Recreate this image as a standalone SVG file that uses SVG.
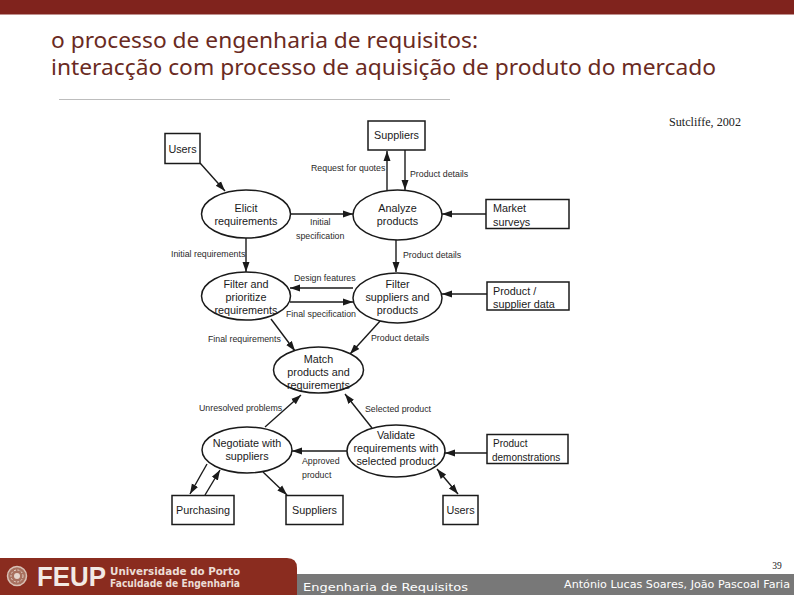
<svg xmlns="http://www.w3.org/2000/svg" width="794" height="595" viewBox="0 0 794 595">
<style>
.n{fill:#fff;stroke:#1a1a1a;stroke-width:1.5}
.c{fill:none;stroke:#1a1a1a;stroke-width:1.4;marker-end:url(#a)}
.t{font-family:"Liberation Sans",Arial,sans-serif;font-size:10.8px;fill:#1a1a1a;text-anchor:middle}
.l{font-family:"Liberation Sans",Arial,sans-serif;font-size:8.8px;fill:#2a2a2a}
.h{font-family:"Noto Sans",sans-serif;font-size:21.500px;fill:#6a2a22}
.f{font-family:"DejaVu Sans",sans-serif}
</style>
<defs>
<marker id="a" markerUnits="userSpaceOnUse" markerWidth="11" markerHeight="9" refX="10" refY="4" orient="auto"><path d="M0 0.500L10 4L0 7.500z" fill="#1a1a1a"/></marker>
<marker id="b" markerUnits="userSpaceOnUse" markerWidth="11" markerHeight="9" refX="0" refY="4" orient="auto"><path d="M10 0.500L0 4L10 7.500z" fill="#1a1a1a"/></marker>
</defs>
<rect width="794" height="595" fill="#fff"/>
<rect id="top-band" width="794" height="14.500" fill="#80231d"/>
<text class="h" x="51" y="48" textLength="427" lengthAdjust="spacingAndGlyphs">o processo de engenharia de requisitos:</text>
<text class="h" x="51" y="75" textLength="665" lengthAdjust="spacingAndGlyphs">interacção com processo de aquisição de produto do mercado</text>
<rect x="59" y="99" width="391" height="1" fill="#bdbdbd"/>
<text x="705" y="126" font-family="Liberation Serif,serif" font-size="11.500" fill="#222" text-anchor="middle" textLength="72" lengthAdjust="spacingAndGlyphs">Sutcliffe, 2002</text>

<g id="connectors">
<path class="c" d="M387 190L387 151"/>
<path class="c" d="M405 150L405 190"/>
<path class="c" d="M200 163L225 191"/>
<path class="c" d="M291 214L353 214"/>
<path class="c" d="M486 214L442 214"/>
<path class="c" d="M396 240L396 272"/>
<path class="c" d="M246 238L246 272"/>
<path class="c" d="M353 288L290 288"/>
<path class="c" d="M290 302L353 302"/>
<path class="c" d="M487 294L442 294"/>
<path class="c" d="M271 319L295 351"/>
<path class="c" d="M381 320L350 354"/>
<path class="c" d="M265 427L301 395"/>
<path class="c" d="M372 428L345 394"/>
<path class="c" d="M347 451L292 451"/>
<path class="c" d="M487 453L445 453"/>
<path class="c" d="M207 464L190 494"/>
<path class="c" d="M205 495L220 470"/>
<path class="c" d="M263 472L287 495"/>
<path class="c" d="M437 469L458 494" style="marker-start:url(#b)"/>
</g>

<g id="users-1"><rect class="n" x="165" y="133.500" width="35" height="30"/><text class="t" x="182.500" y="153">Users</text></g>
<g id="suppliers-1"><rect class="n" x="368" y="121" width="57" height="29"/><text class="t" x="396.500" y="139">Suppliers</text></g>
<g id="elicit"><ellipse class="n" cx="246" cy="214" rx="44.500" ry="24"/><text class="t" x="246" y="212">Elicit</text><text class="t" x="246" y="225">requirements</text></g>
<g id="analyze"><ellipse class="n" cx="397.500" cy="215" rx="44.500" ry="25"/><text class="t" x="397.500" y="212">Analyze</text><text class="t" x="397.500" y="225">products</text></g>
<g id="market"><rect class="n" x="486" y="199.500" width="83" height="29"/><text class="t" x="493" y="212" style="text-anchor:start">Market</text><text class="t" x="493" y="226" style="text-anchor:start">surveys</text></g>
<g id="filter-req"><ellipse class="n" cx="246" cy="296" rx="44.500" ry="24"/><text class="t" x="246" y="288">Filter and</text><text class="t" x="246" y="301">prioritize</text><text class="t" x="246" y="314">requirements</text></g>
<g id="filter-sup"><ellipse class="n" cx="397.500" cy="298" rx="44.500" ry="25"/><text class="t" x="397.500" y="288">Filter</text><text class="t" x="397.500" y="301">suppliers and</text><text class="t" x="397.500" y="314">products</text></g>
<g id="product-data"><rect class="n" x="487" y="282" width="82" height="28"/><text class="t" x="493" y="295" style="text-anchor:start">Product /</text><text class="t" x="493" y="308" style="text-anchor:start">supplier data</text></g>
<g id="match"><ellipse class="n" cx="318.500" cy="370" rx="45" ry="23"/><text class="t" x="318.500" y="363">Match</text><text class="t" x="318.500" y="376">products and</text><text class="t" x="318.500" y="389">requirements</text></g>
<g id="negotiate"><ellipse class="n" cx="247" cy="450" rx="45" ry="23"/><text class="t" x="247" y="447">Negotiate with</text><text class="t" x="247" y="460">suppliers</text></g>
<g id="validate"><ellipse class="n" cx="396" cy="451" rx="49" ry="26"/><text class="t" x="396" y="439">Validate</text><text class="t" x="396" y="452">requirements with</text><text class="t" x="396" y="465">selected product</text></g>
<g id="demos"><rect class="n" x="487" y="434.500" width="81" height="29"/><text class="t" x="493" y="447" style="text-anchor:start;font-size:10px">Product</text><text class="t" x="492" y="461" style="text-anchor:start;font-size:10px">demonstrations</text></g>
<g id="purchasing"><rect class="n" x="172" y="495.500" width="62" height="29"/><text class="t" x="203" y="514">Purchasing</text></g>
<g id="suppliers-2"><rect class="n" x="286" y="495.500" width="57" height="29"/><text class="t" x="314.500" y="514">Suppliers</text></g>
<g id="users-2"><rect class="n" x="443" y="495.500" width="35" height="29"/><text class="t" x="460.500" y="514">Users</text></g>

<g id="labels">
<text class="l" x="311" y="171">Request for quotes</text>
<text class="l" x="410" y="177">Product details</text>
<text class="l" x="310" y="225">Initial</text>
<text class="l" x="296" y="239">specification</text>
<text class="l" x="171" y="257">Initial requirements</text>
<text class="l" x="403" y="258">Product details</text>
<text class="l" x="294" y="281">Design features</text>
<text class="l" x="286" y="317">Final specification</text>
<text class="l" x="208" y="342">Final requirements</text>
<text class="l" x="371" y="341">Product details</text>
<text class="l" x="199" y="411">Unresolved problems</text>
<text class="l" x="365" y="412">Selected product</text>
<text class="l" x="302" y="464">Approved</text>
<text class="l" x="302" y="478">product</text>
</g>

<g id="footer">
<rect x="290" y="574" width="504" height="21" fill="#787878"/>
<path d="M0 558H287Q297 558 297 568V595H0Z" fill="#8a2c1f"/>
<circle cx="17" cy="576" r="9.500" fill="#a8705f" stroke="#d9c0b5" stroke-width="1.500"/>
<circle cx="17" cy="576" r="6" fill="none" stroke="#e6d5cd" stroke-dasharray="2 1.500"/>
<circle cx="17" cy="576" r="3" fill="#e6d5cd"/>
<text x="37" y="586" font-family="Liberation Sans,sans-serif" font-weight="bold" font-size="27" fill="#f2e9e4" textLength="69" lengthAdjust="spacingAndGlyphs">FEUP</text>
<text class="f" x="110" y="575" font-size="11" font-weight="bold" fill="#ecdcd5" textLength="130" lengthAdjust="spacingAndGlyphs">Universidade do Porto</text>
<text class="f" x="110" y="587" font-size="11" font-weight="bold" fill="#ecdcd5" textLength="130" lengthAdjust="spacingAndGlyphs">Faculdade de Engenharia</text>
<text class="f" x="303" y="591" font-size="11" fill="#fff" textLength="165" lengthAdjust="spacingAndGlyphs">Engenharia de Requisitos</text>
<text class="f" x="564" y="588" font-size="11" fill="#fff" textLength="226" lengthAdjust="spacingAndGlyphs">António Lucas Soares, João Pascoal Faria</text>
<text x="777" y="569" font-family="Liberation Serif,serif" font-size="9.500" fill="#222" text-anchor="middle">39</text>
</g>
</svg>
